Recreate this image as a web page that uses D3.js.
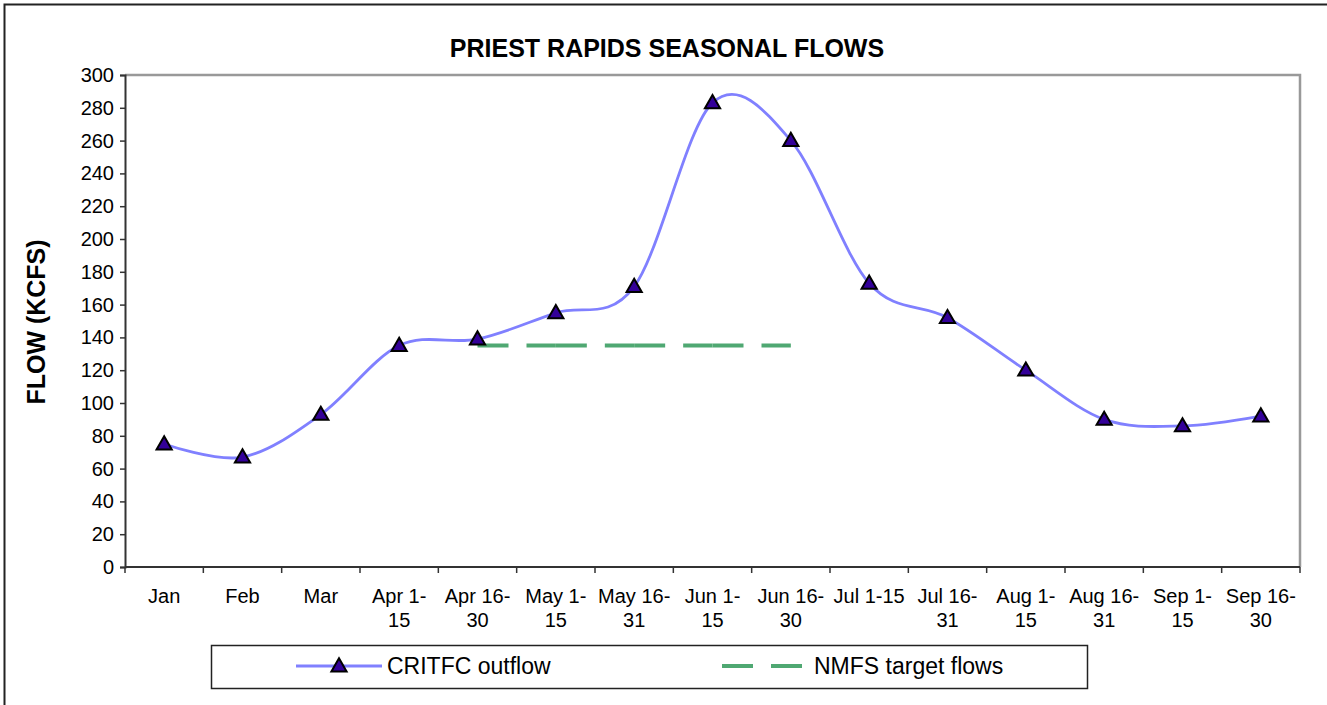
<!DOCTYPE html>
<html>
<head>
<meta charset="utf-8">
<script src="https://cdn.jsdelivr.net/npm/d3@7"></script>
<style>
  body { margin: 0; background: #fff; }
  svg { display: block; font-family: Arial, "Liberation Sans", sans-serif; }
</style>
</head>
<body>
<script>
// chart data
var periods = ["Jan", "Feb", "Mar", "Apr 1-|15", "Apr 16-|30", "May 1-|15", "May 16-|31",
               "Jun 1-|15", "Jun 16-|30", "Jul 1-15", "Jul 16-|31", "Aug 1-|15", "Aug 16-|31",
               "Sep 1-|15", "Sep 16-|30"];
var critfcOutflow = [75, 67, 93, 135, 139, 155, 171, 283, 260, 173, 152, 120, 90, 86, 92];
var nmfsPeriods = ["Apr 16-|30", "May 1-|15", "May 16-|31", "Jun 1-|15", "Jun 16-|30"];
var nmfsTarget = [135, 135, 135, 135, 135];
var yTicks = d3.range(0, 301, 20);

var W = 1327, H = 705;
var margin = {top: 75, right: 27, bottom: 138, left: 125},
    width = W - margin.left - margin.right,
    height = H - margin.top - margin.bottom;

var svgRoot = d3.select("body").append("svg")
    .attr("width", W)
    .attr("height", H);

// outer frame
svgRoot.append("path")
    .attr("d", "M4.5," + H + "V4.5H" + W)
    .attr("fill", "none")
    .attr("stroke", "#222")
    .attr("stroke-width", 2);

svgRoot.append("text")
    .attr("x", 667).attr("y", 57)
    .attr("text-anchor", "middle")
    .attr("font-size", 25).attr("font-weight", "bold")
    .text("PRIEST RAPIDS SEASONAL FLOWS");

svgRoot.append("text")
    .attr("transform", "translate(45," + (margin.top + 247) + ") rotate(-90)")
    .attr("text-anchor", "middle")
    .attr("font-size", 25).attr("font-weight", "bold")
    .text("FLOW (KCFS)");

var svg = svgRoot.append("g")
    .attr("transform", "translate(" + margin.left + "," + margin.top + ")");

var x = d3.scaleBand().domain(periods).range([0, width]);
var y = d3.scaleLinear().domain([0, 300]).range([height, 0]);
var cx = function(p) { return x(p) + x.bandwidth() / 2; };

// plot frame: top and right in gray
svg.append("path")
    .attr("d", "M0,0H" + width + "V" + height)
    .attr("fill", "none")
    .attr("stroke", "#999")
    .attr("stroke-width", 2.5);

// y axis
var yAxis = svg.append("g")
    .call(d3.axisLeft(y).tickValues(yTicks).tickSize(5).tickPadding(6));
yAxis.select(".domain").attr("stroke", "#333").attr("stroke-width", 2);
yAxis.selectAll(".tick line").attr("stroke", "#333").attr("stroke-width", 1.5);
yAxis.selectAll("text").attr("font-size", 20).attr("fill", "#000")
    .attr("font-family", "Arial, 'Liberation Sans', sans-serif");

// x axis with ticks on category boundaries
var xAxisG = svg.append("g").attr("transform", "translate(0," + height + ")");
xAxisG.append("line")
    .attr("x1", 0).attr("x2", width)
    .attr("stroke", "#333").attr("stroke-width", 2);
xAxisG.selectAll(".bound")
    .data(periods.concat(["end"]))
  .enter().append("line")
    .attr("class", "bound")
    .attr("x1", function(d, i) { return i * x.step(); })
    .attr("x2", function(d, i) { return i * x.step(); })
    .attr("y1", 0).attr("y2", 6)
    .attr("stroke", "#333").attr("stroke-width", 1.5);

var labels = xAxisG.selectAll(".lab")
    .data(periods)
  .enter().append("text")
    .attr("class", "lab")
    .attr("text-anchor", "middle")
    .attr("font-size", 20)
    .attr("transform", function(d) { return "translate(" + cx(d) + ",36)"; });
labels.each(function(d) {
    var parts = d.split("|");
    var t = d3.select(this);
    parts.forEach(function(p, i) {
        t.append("tspan").attr("x", 0).attr("dy", i ? 24 : 0).text(p);
    });
});

// NMFS target flows, one dashed piece per period step
var nmfsPts = nmfsPeriods.map(function(p, i) { return [p, nmfsTarget[i]]; });
var nmfsLine = d3.line()
    .x(function(d) { return cx(d[0]); })
    .y(function(d) { return y(d[1]); });
svg.selectAll(".nmfs")
    .data(d3.pairs(nmfsPts))
  .enter().append("path")
    .attr("class", "nmfs")
    .attr("fill", "none")
    .attr("stroke", "#4fa872")
    .attr("stroke-width", 4)
    .attr("stroke-dasharray", "31,18")
    .attr("d", nmfsLine);

// CRITFC outflow
var outData = periods.map(function(p, i) { return [p, critfcOutflow[i]]; });
svg.append("path")
    .datum(outData)
    .attr("fill", "none")
    .attr("stroke", "#8080ff")
    .attr("stroke-width", 2.8)
    .attr("d", d3.line()
        .curve(d3.curveCatmullRom.alpha(0))
        .x(function(d) { return cx(d[0]); })
        .y(function(d) { return y(d[1]); }));

var tri = d3.symbol().type(d3.symbolTriangle).size(100);
svg.selectAll(".mk")
    .data(outData)
  .enter().append("path")
    .attr("class", "mk")
    .attr("d", tri)
    .attr("transform", function(d) { return "translate(" + cx(d[0]) + "," + (y(d[1]) + 1) + ")"; })
    .attr("fill", "#330099")
    .attr("stroke", "#000")
    .attr("stroke-width", 2);

// legend
var lg = svgRoot.append("g").attr("transform", "translate(211,645)");
lg.append("rect")
    .attr("x", 0.5).attr("y", 0.5)
    .attr("width", 876).attr("height", 43)
    .attr("fill", "#fff").attr("stroke", "#222").attr("stroke-width", 1.5);
lg.append("line")
    .attr("x1", 85).attr("x2", 171).attr("y1", 21).attr("y2", 21)
    .attr("stroke", "#8080ff").attr("stroke-width", 2.8);
lg.append("path")
    .attr("d", tri)
    .attr("transform", "translate(128,22)")
    .attr("fill", "#330099").attr("stroke", "#000").attr("stroke-width", 2);
lg.append("text")
    .attr("x", 176).attr("y", 29)
    .attr("font-size", 23)
    .text("CRITFC outflow");
lg.append("line")
    .attr("x1", 511).attr("x2", 592).attr("y1", 21).attr("y2", 21)
    .attr("stroke", "#4fa872").attr("stroke-width", 4)
    .attr("stroke-dasharray", "31,18");
lg.append("text")
    .attr("x", 603).attr("y", 29)
    .attr("font-size", 23)
    .text("NMFS target flows");
</script>
</body>
</html>
